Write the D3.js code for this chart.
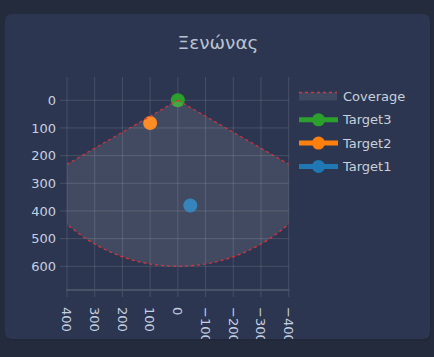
<!DOCTYPE html>
<html><head><meta charset="utf-8">
<script src="https://cdn.jsdelivr.net/npm/d3@7"></script>
<style>
html,body{margin:0;padding:0;background:#232b3d;}
svg{display:block;}
text{font-family:"DejaVu Sans",Verdana,sans-serif;}
</style></head>
<body>
<svg id="c" width="434" height="357"></svg>
<script>
const title = "Ξενώνας";
const xTicks = [400,300,200,100,0,-100,-200,-300,-400];
const yTicks = [0,100,200,300,400,500,600];
const targetNames = ["Target1","Target2","Target3"];
const targetX = [-45,100,0];
const targetY = [380,82,0];
const targetColors = ["#1f77b4","#ff7f0e","#2ca02c"];
const coverageRange = 600;
const coverageHalfAngle = 60;
const legendOrder = ["Coverage","Target3","Target2","Target1"];

(function(){
const svg = d3.select("#c");
const defs = svg.append("defs");
defs.append("clipPath").attr("id","card")
  .append("rect").attr("x",5).attr("y",14).attr("width",425).attr("height",325).attr("rx",6);
defs.append("clipPath").attr("id","plot")
  .append("rect").attr("x",67).attr("y",77).attr("width",221.7).attr("height",213);

svg.append("rect").attr("x",6).attr("y",16).attr("width",425).attr("height",325).attr("rx",6)
  .attr("fill","#1f2738").attr("opacity",0.6);
const g = svg.append("g").attr("clip-path","url(#card)");
g.append("rect").attr("x",5).attr("y",14).attr("width",425).attr("height",325).attr("rx",6).attr("fill","#2c3650");

g.append("text").attr("x",218).attr("y",49).attr("text-anchor","middle")
  .attr("font-size",18.5).attr("fill","#b9c3d1").text(title);

const x = d3.scaleLinear().domain([400,-400]).range([67,288.7]);
const y = d3.scaleLinear().domain([0,600]).range([100.3,266.3]);
const plotTop = 77, plotBottom = 290;
const gridCol = "rgba(255,255,255,0.13)";

xTicks.forEach(t=>{
  g.append("line").attr("x1",x(t)).attr("x2",x(t)).attr("y1",plotTop).attr("y2",plotBottom+7)
    .attr("stroke",gridCol).attr("stroke-width",1);
});
yTicks.forEach(t=>{
  g.append("line").attr("x1",60).attr("x2",288.7).attr("y1",y(t)).attr("y2",y(t))
    .attr("stroke",gridCol).attr("stroke-width",1);
});
g.append("line").attr("x1",66).attr("x2",289.7).attr("y1",plotBottom).attr("y2",plotBottom)
  .attr("stroke","#4a5366").attr("stroke-width",2);

const tickCol = "#c4d0e2";
yTicks.forEach(t=>{
  g.append("text").attr("x",56).attr("y",y(t)).attr("dy","0.36em").attr("text-anchor","end")
   .attr("font-size",13).attr("fill",tickCol).text(t);
});
xTicks.forEach(t=>{
  const lbl = t<0 ? "\u2212"+Math.abs(t) : String(t);
  g.append("text").attr("transform",`translate(${x(t)},307) rotate(90)`)
   .attr("dy","0.36em").attr("text-anchor","start")
   .attr("font-size",13).attr("fill",tickCol).text(lbl);
});

const plot = g.append("g").attr("clip-path","url(#plot)");
targetNames.forEach((n,i)=>{
  plot.append("circle").attr("cx",x(targetX[i])).attr("cy",y(targetY[i])).attr("r",7)
    .attr("fill",targetColors[i]);
});
const pts = [[0,0]];
const N = 60;
for(let k=0;k<=N;k++){
  const a = (-coverageHalfAngle + 2*coverageHalfAngle*k/N)*Math.PI/180;
  pts.push([coverageRange*Math.sin(a), coverageRange*Math.cos(a)]);
}
pts.push([0,0]);
const line = d3.line().x(d=>x(d[0])).y(d=>y(d[1]));
plot.append("path").attr("d",line(pts)+"Z").attr("fill","rgba(255,255,255,0.1)");
plot.append("path").attr("d",line(pts)).attr("fill","none")
  .attr("stroke","#e0303a").attr("stroke-width",1.3).attr("stroke-dasharray","3,3");

const lg = g.append("g");
const ly0 = 96.5, ldy = 23.3;
legendOrder.forEach((n,i)=>{
  const yy = ly0 + i*ldy;
  if(n==="Coverage"){
    lg.append("rect").attr("x",299).attr("y",yy-4).attr("width",38).attr("height",8).attr("fill","#3e4961");
    lg.append("line").attr("x1",299).attr("x2",337).attr("y1",yy-4).attr("y2",yy-4)
      .attr("stroke","#e0303a").attr("stroke-width",1.3).attr("stroke-dasharray","3,3");
  } else {
    const idx = targetNames.indexOf(n);
    lg.append("line").attr("x1",299).attr("x2",338).attr("y1",yy).attr("y2",yy)
      .attr("stroke",targetColors[idx]).attr("stroke-width",5);
    lg.append("circle").attr("cx",318.5).attr("cy",yy).attr("r",6.5).attr("fill",targetColors[idx]);
  }
  lg.append("text").attr("x",343).attr("y",yy).attr("dy","0.36em").attr("font-size",13)
    .attr("fill","#c8d0dc").text(n);
});
})();
</script>
</body></html>
